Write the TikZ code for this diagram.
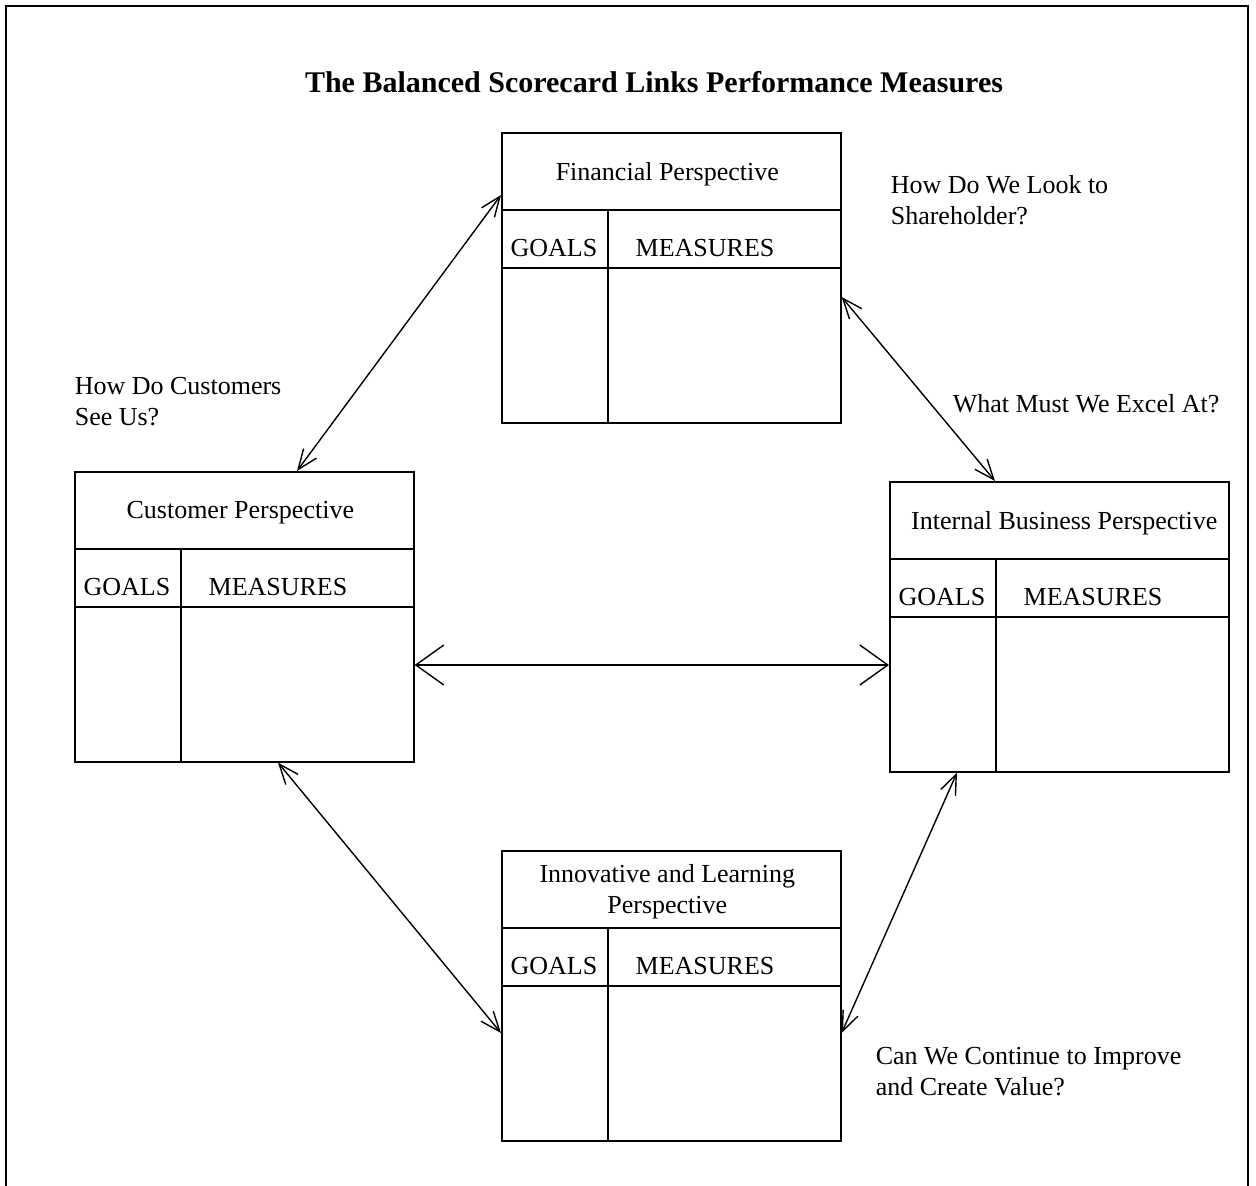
\documentclass[tikz,border=0pt]{standalone}
\usepackage{fontspec}
\setmainfont{Liberation Serif}
\usetikzlibrary{arrows.meta}
\usetikzlibrary{positioning}

\begin{document}
\begin{tikzpicture}[x=0.5pt, y=-0.5pt, line width=0.8pt]
\tikzset{CardStyle/.style = {shape=rectangle, draw, anchor=north west, minimum width=169.5pt, minimum height=145pt, inner sep=0pt}}
\tikzset{CellText/.style = {font=\fontsize{13}{15.5}\selectfont, inner sep=0pt, align=center}}
\tikzset{NoteText/.style = {font=\fontsize{13}{15.5}\selectfont, inner sep=0pt, align=left}}
\tikzset{LinkStyle/.style = {{Straight Barb[length=10pt,width=8pt]}-{Straight Barb[length=10pt,width=8pt]}, line width=0.7pt}}
\tikzset{WideLink/.style = {{Straight Barb[length=14pt,width=20pt]}-{Straight Barb[length=14pt,width=20pt]}, line width=0.7pt}}
  	\useasboundingbox (0,0) rectangle (1256,1186);
  	% frame, open at the bottom
  	\draw[line width=1.2pt] (6,1186) -- (6,6) -- (1248,6) -- (1248,1186);
  	\node[font=\bfseries\fontsize{15}{18}\selectfont] (title) at (654,82) {The Balanced Scorecard Links Performance Measures};
  	% the four perspectives
  	\foreach \nm/\px/\py/\dx/\ttl in {fin/501/132/-2/{Financial Perspective},
  	                              cus/74/471/-2/{Customer Perspective},
  	                              int/889/481/2.5/{Internal Business Perspective},
  	                              inn/501/850/-2/{Innovative and Learning\\Perspective}} {
  	  \node[CardStyle] (\nm) at (\px,\py) {};
  	  \draw ([yshift=-39pt]\nm.north west) -- ([yshift=-39pt]\nm.north east);
  	  \draw ([yshift=-68pt]\nm.north west) -- ([yshift=-68pt]\nm.north east);
  	  \draw ([xshift=53.5pt,yshift=-39pt]\nm.north west) -- ([xshift=53.5pt]\nm.south west);
  	  \node[CellText] (\nm-title) at ([xshift=\dx pt,yshift=-21pt]\nm.north) {\ttl};
  	  \node[CellText] (\nm-goals) at ([xshift=26.5pt,yshift=-58pt]\nm.north west) {GOALS};
  	  \node[CellText] (\nm-meas) at ([xshift=102pt,yshift=-58pt]\nm.north west) {MEASURES};
  	}
  	% questions
  	\node[NoteText, anchor=west] (q-share) at (890,200) {How Do We Look to\\Shareholder?};
  	\node[NoteText, anchor=west] (q-cust) at (74,402) {How Do Customers\\See Us?};
  	\node[NoteText, anchor=west] (q-excel) at (952,404) {What Must We Excel At?};
  	\node[NoteText, anchor=west] (q-value) at (875,1072) {Can We Continue to Improve\\and Create Value?};
  	% links
  	\draw[LinkStyle] ([yshift=-31.5pt]fin.north west) -- ([xshift=111.5pt]cus.north west);
  	\draw[LinkStyle] ([yshift=-82.5pt]fin.north east) -- ([xshift=53pt]int.north west);
  	\draw[WideLink] ([yshift=-97pt]cus.north east) -- ([yshift=-97pt]cus.north east -| int.west);
  	\draw[LinkStyle] ([xshift=102pt]cus.south west) -- ([yshift=-91.5pt]inn.north west);
  	\draw[LinkStyle] ([xshift=34pt]int.south west) -- ([yshift=-91.5pt]inn.north east);
\end{tikzpicture}
\end{document}
